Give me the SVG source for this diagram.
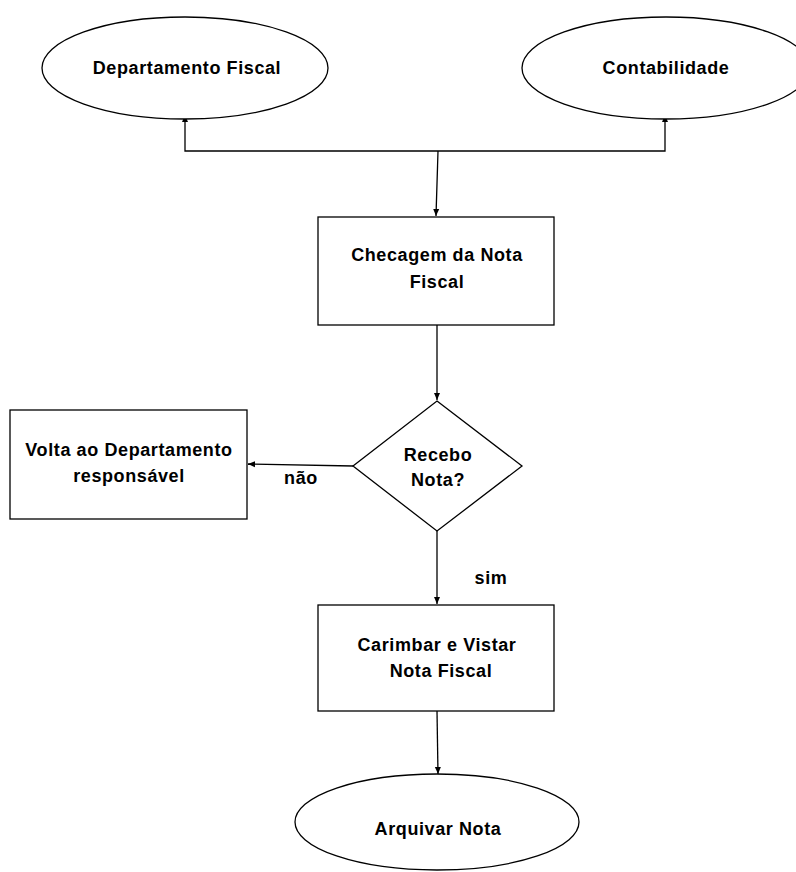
<svg xmlns="http://www.w3.org/2000/svg" width="796" height="872" viewBox="0 0 796 872">
<style>
.s{fill:#fff;stroke:#000;stroke-width:1.3}
.t{font-family:"Liberation Sans",Arial,sans-serif;font-weight:bold;font-size:18px;letter-spacing:0.6px;fill:#000;text-anchor:middle}
.c{fill:none;stroke:#000;stroke-width:1.3}
</style>
<defs>
<marker id="a" markerWidth="8" markerHeight="8" refX="7" refY="4" orient="auto" markerUnits="userSpaceOnUse">
<path d="M0,1 L7,4 L0,7 z" fill="#000"/>
</marker>
</defs>
<rect width="796" height="872" fill="#fff"/>
<g id="connectors">
<path class="c" d="M437,151 L185,151 L185,115" marker-end="url(#a)"/>
<path class="c" d="M437,151 L665,151 L665,115" marker-end="url(#a)"/>
<path class="c" d="M438,151 L436,216" marker-end="url(#a)"/>
<path class="c" d="M437,325 L437,400" marker-end="url(#a)"/>
<path class="c" d="M353,466 L248,464" marker-end="url(#a)"/>
<path class="c" d="M437,531 L437,604" marker-end="url(#a)"/>
<path class="c" d="M437,711 L438,774" marker-end="url(#a)"/>
<text class="t" x="301" y="484">não</text>
<text class="t" x="491" y="584">sim</text>
</g>
<g id="departamento-fiscal">
<ellipse class="s" cx="185" cy="68" rx="143" ry="51"/>
<text class="t" x="187" y="74">Departamento Fiscal</text>
</g>
<g id="contabilidade">
<ellipse class="s" cx="666" cy="68" rx="144" ry="51"/>
<text class="t" x="666" y="74">Contabilidade</text>
</g>
<g id="checagem">
<rect class="s" x="318" y="217" width="236" height="108"/>
<text class="t" x="437" y="261">Checagem da Nota</text>
<text class="t" x="437" y="288">Fiscal</text>
</g>
<g id="recebo">
<path class="s" d="M437,401 L522,466 L437,531 L353,466 Z"/>
<text class="t" x="438" y="461">Recebo</text>
<text class="t" x="438" y="486">Nota?</text>
</g>
<g id="volta">
<rect class="s" x="10" y="410" width="237" height="109"/>
<text class="t" x="129" y="456">Volta ao Departamento</text>
<text class="t" x="129" y="482">responsável</text>
</g>
<g id="carimbar">
<rect class="s" x="318" y="605" width="236" height="106"/>
<text class="t" x="437" y="651">Carimbar e Vistar</text>
<text class="t" x="441" y="677">Nota Fiscal</text>
</g>
<g id="arquivar">
<ellipse class="s" cx="437" cy="822" rx="142" ry="48"/>
<text class="t" x="438" y="835">Arquivar Nota</text>
</g>
</svg>
